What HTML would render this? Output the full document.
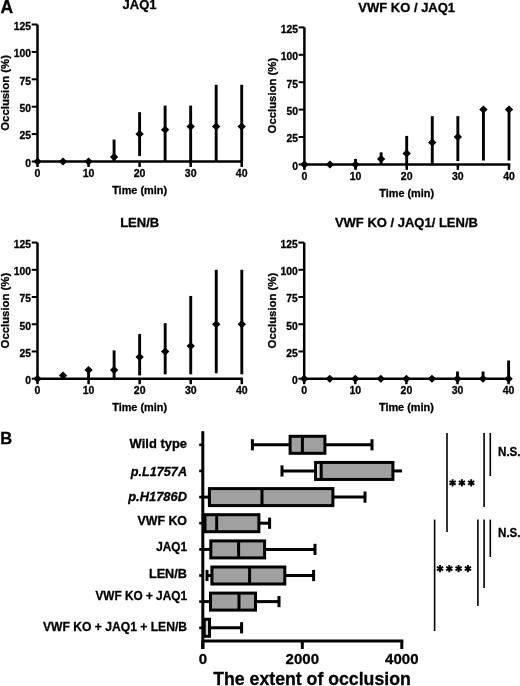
<!DOCTYPE html>
<html><head><meta charset="utf-8"><style>
html,body{margin:0;padding:0;background:#fff;}
body{width:520px;height:686px;overflow:hidden;}
svg{display:block;font-family:"Liberation Sans", sans-serif;will-change:transform;}
text{stroke:#000;stroke-width:0.3px;}
</style></head><body>
<svg width="520" height="686" viewBox="0 0 520 686" font-family='"Liberation Sans", sans-serif' fill="#000">
<rect width="520" height="686" fill="#fff"/>
<line x1="37.5" y1="24.5" x2="37.5" y2="161.5" stroke="#000" stroke-width="2.5"/>
<line x1="31.7" y1="161.50" x2="37.5" y2="161.50" stroke="#000" stroke-width="2"/>
<text x="31.0" y="166.80" text-anchor="end" font-size="10.3" font-weight="bold">0</text>
<line x1="31.7" y1="134.10" x2="37.5" y2="134.10" stroke="#000" stroke-width="2"/>
<text x="31.0" y="139.40" text-anchor="end" font-size="10.3" font-weight="bold">25</text>
<line x1="31.7" y1="106.70" x2="37.5" y2="106.70" stroke="#000" stroke-width="2"/>
<text x="31.0" y="112.00" text-anchor="end" font-size="10.3" font-weight="bold">50</text>
<line x1="31.7" y1="79.30" x2="37.5" y2="79.30" stroke="#000" stroke-width="2"/>
<text x="31.0" y="84.60" text-anchor="end" font-size="10.3" font-weight="bold">75</text>
<line x1="31.7" y1="51.90" x2="37.5" y2="51.90" stroke="#000" stroke-width="2"/>
<text x="31.0" y="57.20" text-anchor="end" font-size="10.3" font-weight="bold">100</text>
<line x1="31.7" y1="24.50" x2="37.5" y2="24.50" stroke="#000" stroke-width="2"/>
<text x="31.0" y="29.80" text-anchor="end" font-size="10.3" font-weight="bold">125</text>
<line x1="36.25" y1="161.5" x2="242.95" y2="161.5" stroke="#000" stroke-width="2.5"/>
<line x1="37.50" y1="161.5" x2="37.50" y2="167.0" stroke="#000" stroke-width="2.5"/>
<text x="37.50" y="176.9" text-anchor="middle" font-size="10.5" font-weight="bold">0</text>
<line x1="88.55" y1="161.5" x2="88.55" y2="167.0" stroke="#000" stroke-width="2.5"/>
<text x="88.55" y="176.9" text-anchor="middle" font-size="10.5" font-weight="bold">10</text>
<line x1="139.60" y1="161.5" x2="139.60" y2="167.0" stroke="#000" stroke-width="2.5"/>
<text x="139.60" y="176.9" text-anchor="middle" font-size="10.5" font-weight="bold">20</text>
<line x1="190.65" y1="161.5" x2="190.65" y2="167.0" stroke="#000" stroke-width="2.5"/>
<text x="190.65" y="176.9" text-anchor="middle" font-size="10.5" font-weight="bold">30</text>
<line x1="241.70" y1="161.5" x2="241.70" y2="167.0" stroke="#000" stroke-width="2.5"/>
<text x="241.70" y="176.9" text-anchor="middle" font-size="10.5" font-weight="bold">40</text>
<path d="M33.30 161.50 L37.50 157.50 L41.70 161.50 L37.50 165.50 Z" fill="#000"/>
<path d="M58.82 161.50 L63.02 157.50 L67.22 161.50 L63.02 165.50 Z" fill="#000"/>
<path d="M84.35 161.50 L88.55 157.50 L92.75 161.50 L88.55 165.50 Z" fill="#000"/>
<line x1="114.07" y1="161.50" x2="114.07" y2="139.58" stroke="#000" stroke-width="2.9"/>
<path d="M109.87 157.12 L114.07 153.12 L118.27 157.12 L114.07 161.12 Z" fill="#000"/>
<line x1="139.60" y1="156.02" x2="139.60" y2="112.18" stroke="#000" stroke-width="2.9"/>
<path d="M135.40 134.10 L139.60 130.10 L143.80 134.10 L139.60 138.10 Z" fill="#000"/>
<line x1="165.12" y1="161.50" x2="165.12" y2="105.60" stroke="#000" stroke-width="2.9"/>
<path d="M160.93 129.72 L165.12 125.72 L169.32 129.72 L165.12 133.72 Z" fill="#000"/>
<line x1="190.65" y1="161.50" x2="190.65" y2="105.60" stroke="#000" stroke-width="2.9"/>
<path d="M186.45 126.43 L190.65 122.43 L194.85 126.43 L190.65 130.43 Z" fill="#000"/>
<line x1="216.17" y1="161.50" x2="216.17" y2="84.78" stroke="#000" stroke-width="2.9"/>
<path d="M211.97 126.43 L216.17 122.43 L220.37 126.43 L216.17 130.43 Z" fill="#000"/>
<line x1="241.70" y1="161.50" x2="241.70" y2="84.78" stroke="#000" stroke-width="2.9"/>
<path d="M237.50 126.43 L241.70 122.43 L245.90 126.43 L241.70 130.43 Z" fill="#000"/>
<text x="139.60" y="9.4" text-anchor="middle" font-size="13" font-weight="bold">JAQ1</text>
<text x="139.60" y="193.9" text-anchor="middle" font-size="10.9" font-weight="bold">Time (min)</text>
<text transform="translate(8.8 92.9) rotate(-90)" text-anchor="middle" font-size="11.35" font-weight="bold">Occlusion (%)</text>
<line x1="304.4" y1="27.400000000000006" x2="304.4" y2="164.4" stroke="#000" stroke-width="2.5"/>
<line x1="298.59999999999997" y1="164.40" x2="304.4" y2="164.40" stroke="#000" stroke-width="2"/>
<text x="297.9" y="169.70" text-anchor="end" font-size="10.3" font-weight="bold">0</text>
<line x1="298.59999999999997" y1="137.00" x2="304.4" y2="137.00" stroke="#000" stroke-width="2"/>
<text x="297.9" y="142.30" text-anchor="end" font-size="10.3" font-weight="bold">25</text>
<line x1="298.59999999999997" y1="109.60" x2="304.4" y2="109.60" stroke="#000" stroke-width="2"/>
<text x="297.9" y="114.90" text-anchor="end" font-size="10.3" font-weight="bold">50</text>
<line x1="298.59999999999997" y1="82.20" x2="304.4" y2="82.20" stroke="#000" stroke-width="2"/>
<text x="297.9" y="87.50" text-anchor="end" font-size="10.3" font-weight="bold">75</text>
<line x1="298.59999999999997" y1="54.80" x2="304.4" y2="54.80" stroke="#000" stroke-width="2"/>
<text x="297.9" y="60.10" text-anchor="end" font-size="10.3" font-weight="bold">100</text>
<line x1="298.59999999999997" y1="27.40" x2="304.4" y2="27.40" stroke="#000" stroke-width="2"/>
<text x="297.9" y="32.70" text-anchor="end" font-size="10.3" font-weight="bold">125</text>
<line x1="303.15" y1="164.4" x2="510.25" y2="164.4" stroke="#000" stroke-width="2.5"/>
<line x1="304.40" y1="164.4" x2="304.40" y2="169.9" stroke="#000" stroke-width="2.5"/>
<text x="304.40" y="179.5" text-anchor="middle" font-size="10.5" font-weight="bold">0</text>
<line x1="355.55" y1="164.4" x2="355.55" y2="169.9" stroke="#000" stroke-width="2.5"/>
<text x="355.55" y="179.5" text-anchor="middle" font-size="10.5" font-weight="bold">10</text>
<line x1="406.70" y1="164.4" x2="406.70" y2="169.9" stroke="#000" stroke-width="2.5"/>
<text x="406.70" y="179.5" text-anchor="middle" font-size="10.5" font-weight="bold">20</text>
<line x1="457.85" y1="164.4" x2="457.85" y2="169.9" stroke="#000" stroke-width="2.5"/>
<text x="457.85" y="179.5" text-anchor="middle" font-size="10.5" font-weight="bold">30</text>
<line x1="509.00" y1="164.4" x2="509.00" y2="169.9" stroke="#000" stroke-width="2.5"/>
<text x="509.00" y="179.5" text-anchor="middle" font-size="10.5" font-weight="bold">40</text>
<path d="M300.20 164.40 L304.40 160.40 L308.60 164.40 L304.40 168.40 Z" fill="#000"/>
<path d="M325.77 164.40 L329.97 160.40 L334.17 164.40 L329.97 168.40 Z" fill="#000"/>
<line x1="355.55" y1="168.78" x2="355.55" y2="158.92" stroke="#000" stroke-width="2.9"/>
<path d="M351.35 164.40 L355.55 160.40 L359.75 164.40 L355.55 168.40 Z" fill="#000"/>
<line x1="381.12" y1="164.40" x2="381.12" y2="152.34" stroke="#000" stroke-width="2.9"/>
<path d="M376.93 158.92 L381.12 154.92 L385.32 158.92 L381.12 162.92 Z" fill="#000"/>
<line x1="406.70" y1="164.40" x2="406.70" y2="135.90" stroke="#000" stroke-width="2.9"/>
<path d="M402.50 153.44 L406.70 149.44 L410.90 153.44 L406.70 157.44 Z" fill="#000"/>
<line x1="432.27" y1="164.40" x2="432.27" y2="116.18" stroke="#000" stroke-width="2.9"/>
<path d="M428.07 142.48 L432.27 138.48 L436.47 142.48 L432.27 146.48 Z" fill="#000"/>
<line x1="457.85" y1="161.11" x2="457.85" y2="116.18" stroke="#000" stroke-width="2.9"/>
<path d="M453.65 137.00 L457.85 133.00 L462.05 137.00 L457.85 141.00 Z" fill="#000"/>
<line x1="483.42" y1="160.56" x2="483.42" y2="109.60" stroke="#000" stroke-width="2.9"/>
<path d="M479.22 109.60 L483.42 105.60 L487.62 109.60 L483.42 113.60 Z" fill="#000"/>
<line x1="509.00" y1="160.56" x2="509.00" y2="109.60" stroke="#000" stroke-width="2.9"/>
<path d="M504.80 109.60 L509.00 105.60 L513.20 109.60 L509.00 113.60 Z" fill="#000"/>
<text x="406.70" y="12.2" text-anchor="middle" font-size="13" font-weight="bold">VWF KO / JAQ1</text>
<text x="406.70" y="196.6" text-anchor="middle" font-size="10.9" font-weight="bold">Time (min)</text>
<text transform="translate(275.6 95.6) rotate(-90)" text-anchor="middle" font-size="11.35" font-weight="bold">Occlusion (%)</text>
<line x1="37.5" y1="242.575" x2="37.5" y2="378.7" stroke="#000" stroke-width="2.5"/>
<line x1="31.7" y1="378.70" x2="37.5" y2="378.70" stroke="#000" stroke-width="2"/>
<text x="31.0" y="384.00" text-anchor="end" font-size="10.3" font-weight="bold">0</text>
<line x1="31.7" y1="351.47" x2="37.5" y2="351.47" stroke="#000" stroke-width="2"/>
<text x="31.0" y="356.77" text-anchor="end" font-size="10.3" font-weight="bold">25</text>
<line x1="31.7" y1="324.25" x2="37.5" y2="324.25" stroke="#000" stroke-width="2"/>
<text x="31.0" y="329.55" text-anchor="end" font-size="10.3" font-weight="bold">50</text>
<line x1="31.7" y1="297.02" x2="37.5" y2="297.02" stroke="#000" stroke-width="2"/>
<text x="31.0" y="302.32" text-anchor="end" font-size="10.3" font-weight="bold">75</text>
<line x1="31.7" y1="269.80" x2="37.5" y2="269.80" stroke="#000" stroke-width="2"/>
<text x="31.0" y="275.10" text-anchor="end" font-size="10.3" font-weight="bold">100</text>
<line x1="31.7" y1="242.57" x2="37.5" y2="242.57" stroke="#000" stroke-width="2"/>
<text x="31.0" y="247.88" text-anchor="end" font-size="10.3" font-weight="bold">125</text>
<line x1="36.25" y1="378.7" x2="243.05" y2="378.7" stroke="#000" stroke-width="2.5"/>
<line x1="37.50" y1="378.7" x2="37.50" y2="384.2" stroke="#000" stroke-width="2.5"/>
<text x="37.50" y="394.0" text-anchor="middle" font-size="10.5" font-weight="bold">0</text>
<line x1="88.58" y1="378.7" x2="88.58" y2="384.2" stroke="#000" stroke-width="2.5"/>
<text x="88.58" y="394.0" text-anchor="middle" font-size="10.5" font-weight="bold">10</text>
<line x1="139.65" y1="378.7" x2="139.65" y2="384.2" stroke="#000" stroke-width="2.5"/>
<text x="139.65" y="394.0" text-anchor="middle" font-size="10.5" font-weight="bold">20</text>
<line x1="190.72" y1="378.7" x2="190.72" y2="384.2" stroke="#000" stroke-width="2.5"/>
<text x="190.72" y="394.0" text-anchor="middle" font-size="10.5" font-weight="bold">30</text>
<line x1="241.80" y1="378.7" x2="241.80" y2="384.2" stroke="#000" stroke-width="2.5"/>
<text x="241.80" y="394.0" text-anchor="middle" font-size="10.5" font-weight="bold">40</text>
<path d="M33.30 378.70 L37.50 374.70 L41.70 378.70 L37.50 382.70 Z" fill="#000"/>
<path d="M58.84 375.43 L63.04 371.43 L67.24 375.43 L63.04 379.43 Z" fill="#000"/>
<line x1="88.58" y1="378.70" x2="88.58" y2="369.99" stroke="#000" stroke-width="2.9"/>
<path d="M84.38 369.99 L88.58 365.99 L92.78 369.99 L88.58 373.99 Z" fill="#000"/>
<line x1="114.11" y1="378.70" x2="114.11" y2="350.39" stroke="#000" stroke-width="2.9"/>
<path d="M109.91 369.99 L114.11 365.99 L118.31 369.99 L114.11 373.99 Z" fill="#000"/>
<line x1="139.65" y1="375.43" x2="139.65" y2="334.05" stroke="#000" stroke-width="2.9"/>
<path d="M135.45 356.92 L139.65 352.92 L143.85 356.92 L139.65 360.92 Z" fill="#000"/>
<line x1="165.19" y1="374.34" x2="165.19" y2="323.16" stroke="#000" stroke-width="2.9"/>
<path d="M160.99 351.47 L165.19 347.47 L169.39 351.47 L165.19 355.47 Z" fill="#000"/>
<line x1="190.72" y1="374.34" x2="190.72" y2="295.94" stroke="#000" stroke-width="2.9"/>
<path d="M186.53 346.03 L190.72 342.03 L194.92 346.03 L190.72 350.03 Z" fill="#000"/>
<line x1="216.26" y1="373.25" x2="216.26" y2="269.80" stroke="#000" stroke-width="2.9"/>
<path d="M212.06 324.25 L216.26 320.25 L220.46 324.25 L216.26 328.25 Z" fill="#000"/>
<line x1="241.80" y1="374.34" x2="241.80" y2="269.80" stroke="#000" stroke-width="2.9"/>
<path d="M237.60 324.25 L241.80 320.25 L246.00 324.25 L241.80 328.25 Z" fill="#000"/>
<text x="139.65" y="227.3" text-anchor="middle" font-size="13" font-weight="bold">LEN/B</text>
<text x="139.65" y="410.9" text-anchor="middle" font-size="10.9" font-weight="bold">Time (min)</text>
<text transform="translate(9.4 310.6) rotate(-90)" text-anchor="middle" font-size="11.35" font-weight="bold">Occlusion (%)</text>
<line x1="304.2" y1="242.575" x2="304.2" y2="378.7" stroke="#000" stroke-width="2.5"/>
<line x1="298.4" y1="378.70" x2="304.2" y2="378.70" stroke="#000" stroke-width="2"/>
<text x="297.7" y="384.00" text-anchor="end" font-size="10.3" font-weight="bold">0</text>
<line x1="298.4" y1="351.47" x2="304.2" y2="351.47" stroke="#000" stroke-width="2"/>
<text x="297.7" y="356.77" text-anchor="end" font-size="10.3" font-weight="bold">25</text>
<line x1="298.4" y1="324.25" x2="304.2" y2="324.25" stroke="#000" stroke-width="2"/>
<text x="297.7" y="329.55" text-anchor="end" font-size="10.3" font-weight="bold">50</text>
<line x1="298.4" y1="297.02" x2="304.2" y2="297.02" stroke="#000" stroke-width="2"/>
<text x="297.7" y="302.32" text-anchor="end" font-size="10.3" font-weight="bold">75</text>
<line x1="298.4" y1="269.80" x2="304.2" y2="269.80" stroke="#000" stroke-width="2"/>
<text x="297.7" y="275.10" text-anchor="end" font-size="10.3" font-weight="bold">100</text>
<line x1="298.4" y1="242.57" x2="304.2" y2="242.57" stroke="#000" stroke-width="2"/>
<text x="297.7" y="247.88" text-anchor="end" font-size="10.3" font-weight="bold">125</text>
<line x1="302.95" y1="378.7" x2="509.85" y2="378.7" stroke="#000" stroke-width="2.5"/>
<line x1="304.20" y1="378.7" x2="304.20" y2="384.2" stroke="#000" stroke-width="2.5"/>
<text x="304.20" y="394.0" text-anchor="middle" font-size="10.5" font-weight="bold">0</text>
<line x1="355.30" y1="378.7" x2="355.30" y2="384.2" stroke="#000" stroke-width="2.5"/>
<text x="355.30" y="394.0" text-anchor="middle" font-size="10.5" font-weight="bold">10</text>
<line x1="406.40" y1="378.7" x2="406.40" y2="384.2" stroke="#000" stroke-width="2.5"/>
<text x="406.40" y="394.0" text-anchor="middle" font-size="10.5" font-weight="bold">20</text>
<line x1="457.50" y1="378.7" x2="457.50" y2="384.2" stroke="#000" stroke-width="2.5"/>
<text x="457.50" y="394.0" text-anchor="middle" font-size="10.5" font-weight="bold">30</text>
<line x1="508.60" y1="378.7" x2="508.60" y2="384.2" stroke="#000" stroke-width="2.5"/>
<text x="508.60" y="394.0" text-anchor="middle" font-size="10.5" font-weight="bold">40</text>
<path d="M300.00 378.70 L304.20 374.70 L308.40 378.70 L304.20 382.70 Z" fill="#000"/>
<path d="M325.55 378.70 L329.75 374.70 L333.95 378.70 L329.75 382.70 Z" fill="#000"/>
<path d="M351.10 378.70 L355.30 374.70 L359.50 378.70 L355.30 382.70 Z" fill="#000"/>
<path d="M376.65 378.70 L380.85 374.70 L385.05 378.70 L380.85 382.70 Z" fill="#000"/>
<path d="M402.20 378.70 L406.40 374.70 L410.60 378.70 L406.40 382.70 Z" fill="#000"/>
<path d="M427.75 378.70 L431.95 374.70 L436.15 378.70 L431.95 382.70 Z" fill="#000"/>
<line x1="457.50" y1="378.70" x2="457.50" y2="371.51" stroke="#000" stroke-width="2.9"/>
<path d="M453.30 378.70 L457.50 374.70 L461.70 378.70 L457.50 382.70 Z" fill="#000"/>
<line x1="483.05" y1="378.70" x2="483.05" y2="371.51" stroke="#000" stroke-width="2.9"/>
<path d="M478.85 378.70 L483.05 374.70 L487.25 378.70 L483.05 382.70 Z" fill="#000"/>
<line x1="508.60" y1="378.70" x2="508.60" y2="360.51" stroke="#000" stroke-width="2.9"/>
<path d="M504.40 378.70 L508.60 374.70 L512.80 378.70 L508.60 382.70 Z" fill="#000"/>
<text x="406.40" y="227.1" text-anchor="middle" font-size="13" font-weight="bold">VWF KO / JAQ1/ LEN/B</text>
<text x="406.40" y="410.9" text-anchor="middle" font-size="10.9" font-weight="bold">Time (min)</text>
<text transform="translate(275.5 310.6) rotate(-90)" text-anchor="middle" font-size="11.35" font-weight="bold">Occlusion (%)</text>
<text x="0.5" y="12.8" font-size="17.5" font-weight="bold">A</text>
<text x="0.3" y="443.6" font-size="16.5" font-weight="bold">B</text>
<line x1="202.8" y1="431.2" x2="202.8" y2="649" stroke="#000" stroke-width="3"/>
<line x1="199.2" y1="444.8" x2="202.8" y2="444.8" stroke="#000" stroke-width="2.6"/>
<line x1="199.2" y1="470.95" x2="202.8" y2="470.95" stroke="#000" stroke-width="2.6"/>
<line x1="199.2" y1="497.1" x2="202.8" y2="497.1" stroke="#000" stroke-width="2.6"/>
<line x1="199.2" y1="523.2" x2="202.8" y2="523.2" stroke="#000" stroke-width="2.6"/>
<line x1="199.2" y1="549.4" x2="202.8" y2="549.4" stroke="#000" stroke-width="2.6"/>
<line x1="199.2" y1="575.5" x2="202.8" y2="575.5" stroke="#000" stroke-width="2.6"/>
<line x1="199.2" y1="601.6" x2="202.8" y2="601.6" stroke="#000" stroke-width="2.6"/>
<line x1="199.2" y1="627.8" x2="202.8" y2="627.8" stroke="#000" stroke-width="2.6"/>
<line x1="202.8" y1="641" x2="403.30" y2="641" stroke="#000" stroke-width="3"/>
<line x1="202.80" y1="641" x2="202.80" y2="649" stroke="#000" stroke-width="3"/>
<text x="202.80" y="664.4" text-anchor="middle" font-size="15" font-weight="bold">0</text>
<line x1="302.30" y1="641" x2="302.30" y2="649" stroke="#000" stroke-width="3"/>
<text x="302.30" y="664.4" text-anchor="middle" font-size="15" font-weight="bold">2000</text>
<line x1="401.80" y1="641" x2="401.80" y2="649" stroke="#000" stroke-width="3"/>
<text x="401.80" y="664.4" text-anchor="middle" font-size="15" font-weight="bold">4000</text>
<text x="312" y="685" text-anchor="middle" font-size="17.7" font-weight="bold">The extent of occlusion</text>
<line x1="252.4" y1="444.8" x2="290.1" y2="444.8" stroke="#000" stroke-width="3"/>
<line x1="252.4" y1="439.2" x2="252.4" y2="450.40000000000003" stroke="#000" stroke-width="3"/>
<line x1="324.9" y1="444.8" x2="372.0" y2="444.8" stroke="#000" stroke-width="3"/>
<line x1="372.0" y1="439.2" x2="372.0" y2="450.40000000000003" stroke="#000" stroke-width="3"/>
<rect x="290.1" y="436.3" width="34.799999999999955" height="17.0" fill="#a0a0a0" stroke="#000" stroke-width="3.0"/>
<line x1="302.4" y1="436.3" x2="302.4" y2="453.3" stroke="#000" stroke-width="3.0"/>
<line x1="282.0" y1="470.95" x2="315.6" y2="470.95" stroke="#000" stroke-width="3"/>
<line x1="282.0" y1="465.34999999999997" x2="282.0" y2="476.55" stroke="#000" stroke-width="3"/>
<line x1="392.9" y1="470.95" x2="402.0" y2="470.95" stroke="#000" stroke-width="3"/>
<rect x="315.6" y="462.45" width="77.29999999999995" height="17.0" fill="#a0a0a0" stroke="#000" stroke-width="3.0"/>
<rect x="317.1" y="463.95" width="2.599999999999966" height="14.0" fill="#d8d8d8"/>
<line x1="321.2" y1="462.45" x2="321.2" y2="479.45" stroke="#000" stroke-width="3.0"/>
<line x1="202.8" y1="497.1" x2="209.4" y2="497.1" stroke="#000" stroke-width="3"/>
<line x1="332.9" y1="497.1" x2="365.0" y2="497.1" stroke="#000" stroke-width="3"/>
<line x1="365.0" y1="491.5" x2="365.0" y2="502.70000000000005" stroke="#000" stroke-width="3"/>
<rect x="209.4" y="488.6" width="123.49999999999997" height="17.0" fill="#a0a0a0" stroke="#000" stroke-width="3.0"/>
<line x1="262.0" y1="488.6" x2="262.0" y2="505.6" stroke="#000" stroke-width="3.0"/>
<line x1="202.8" y1="523.2" x2="205.0" y2="523.2" stroke="#000" stroke-width="3"/>
<line x1="258.9" y1="523.2" x2="269.6" y2="523.2" stroke="#000" stroke-width="3"/>
<line x1="269.6" y1="517.6" x2="269.6" y2="528.8000000000001" stroke="#000" stroke-width="3"/>
<rect x="205.0" y="514.7" width="53.89999999999998" height="17.0" fill="#a0a0a0" stroke="#000" stroke-width="3.0"/>
<line x1="216.7" y1="514.7" x2="216.7" y2="531.7" stroke="#000" stroke-width="3.0"/>
<line x1="202.8" y1="549.4" x2="210.8" y2="549.4" stroke="#000" stroke-width="3"/>
<line x1="264.6" y1="549.4" x2="315.0" y2="549.4" stroke="#000" stroke-width="3"/>
<line x1="315.0" y1="543.8" x2="315.0" y2="555.0" stroke="#000" stroke-width="3"/>
<rect x="210.8" y="540.9" width="53.80000000000001" height="17.0" fill="#a0a0a0" stroke="#000" stroke-width="3.0"/>
<line x1="238.6" y1="540.9" x2="238.6" y2="557.9" stroke="#000" stroke-width="3.0"/>
<line x1="207.0" y1="575.5" x2="211.9" y2="575.5" stroke="#000" stroke-width="3"/>
<line x1="207.0" y1="569.9" x2="207.0" y2="581.1" stroke="#000" stroke-width="3"/>
<line x1="284.8" y1="575.5" x2="313.6" y2="575.5" stroke="#000" stroke-width="3"/>
<line x1="313.6" y1="569.9" x2="313.6" y2="581.1" stroke="#000" stroke-width="3"/>
<rect x="211.9" y="567.0" width="72.9" height="17.0" fill="#a0a0a0" stroke="#000" stroke-width="3.0"/>
<line x1="249.6" y1="567.0" x2="249.6" y2="584.0" stroke="#000" stroke-width="3.0"/>
<line x1="202.8" y1="601.6" x2="210.5" y2="601.6" stroke="#000" stroke-width="3"/>
<line x1="255.5" y1="601.6" x2="279.0" y2="601.6" stroke="#000" stroke-width="3"/>
<line x1="279.0" y1="596.0" x2="279.0" y2="607.2" stroke="#000" stroke-width="3"/>
<rect x="210.5" y="593.1" width="45.0" height="17.0" fill="#a0a0a0" stroke="#000" stroke-width="3.0"/>
<line x1="239.0" y1="593.1" x2="239.0" y2="610.1" stroke="#000" stroke-width="3.0"/>
<line x1="209.5" y1="627.8" x2="241.6" y2="627.8" stroke="#000" stroke-width="3"/>
<line x1="241.6" y1="622.1999999999999" x2="241.6" y2="633.4" stroke="#000" stroke-width="3"/>
<rect x="204.0" y="619.3" width="5.5" height="17.0" fill="#d2d2d2" stroke="#000" stroke-width="3.0"/>
<line x1="204.0" y1="619.3" x2="204.0" y2="636.3" stroke="#000" stroke-width="3.0"/>
<text x="187" y="447.6" text-anchor="end" font-size="12.4" font-weight="bold" textLength="57.40" lengthAdjust="spacingAndGlyphs">Wild type</text>
<text x="187" y="476.2" text-anchor="end" font-size="12.4" font-weight="bold" font-style="italic" textLength="56.14" lengthAdjust="spacingAndGlyphs">p.L1757A</text>
<text x="187" y="501.2" text-anchor="end" font-size="12.4" font-weight="bold" font-style="italic" textLength="58.82" lengthAdjust="spacingAndGlyphs">p.H1786D</text>
<text x="187" y="525.4" text-anchor="end" font-size="12.4" font-weight="bold" textLength="49.59" lengthAdjust="spacingAndGlyphs">VWF KO</text>
<text x="187" y="551.2" text-anchor="end" font-size="12.4" font-weight="bold" textLength="30.79" lengthAdjust="spacingAndGlyphs">JAQ1</text>
<text x="187" y="577.6" text-anchor="end" font-size="12.4" font-weight="bold" textLength="38.10" lengthAdjust="spacingAndGlyphs">LEN/B</text>
<text x="187" y="600.2" text-anchor="end" font-size="12.4" font-weight="bold" textLength="91.62" lengthAdjust="spacingAndGlyphs">VWF KO + JAQ1</text>
<text x="187" y="631.0" text-anchor="end" font-size="12.4" font-weight="bold" textLength="143.95" lengthAdjust="spacingAndGlyphs">VWF KO + JAQ1 + LEN/B</text>
<line x1="447.0" y1="433.0" x2="447.0" y2="532.0" stroke="#000" stroke-width="1.6"/>
<line x1="484.1" y1="433.0" x2="484.1" y2="507.0" stroke="#000" stroke-width="1.6"/>
<line x1="490.3" y1="433.0" x2="490.3" y2="476.0" stroke="#000" stroke-width="1.6"/>
<line x1="434.6" y1="519.6" x2="434.6" y2="631.0" stroke="#000" stroke-width="1.6"/>
<line x1="477.9" y1="519.6" x2="477.9" y2="606.0" stroke="#000" stroke-width="1.6"/>
<line x1="484.1" y1="519.6" x2="484.1" y2="588.0" stroke="#000" stroke-width="1.6"/>
<line x1="490.3" y1="519.6" x2="490.3" y2="557.0" stroke="#000" stroke-width="1.6"/>
<text x="498" y="456.3" font-size="12.6" font-weight="bold" textLength="22.6" lengthAdjust="spacingAndGlyphs">N.S.</text>
<text x="498" y="537.3" font-size="12.6" font-weight="bold" textLength="22.6" lengthAdjust="spacingAndGlyphs">N.S.</text>
<path d="M452.60 479.20L452.60 486.40M449.48 481.00L455.72 484.60M449.48 484.60L455.72 481.00" stroke="#000" stroke-width="1.9" fill="none"/>
<path d="M461.90 479.20L461.90 486.40M458.78 481.00L465.02 484.60M458.78 484.60L465.02 481.00" stroke="#000" stroke-width="1.9" fill="none"/>
<path d="M471.20 479.20L471.20 486.40M468.08 481.00L474.32 484.60M468.08 484.60L474.32 481.00" stroke="#000" stroke-width="1.9" fill="none"/>
<path d="M440.00 565.00L440.00 572.20M436.88 566.80L443.12 570.40M436.88 570.40L443.12 566.80" stroke="#000" stroke-width="1.9" fill="none"/>
<path d="M449.30 565.00L449.30 572.20M446.18 566.80L452.42 570.40M446.18 570.40L452.42 566.80" stroke="#000" stroke-width="1.9" fill="none"/>
<path d="M458.60 565.00L458.60 572.20M455.48 566.80L461.72 570.40M455.48 570.40L461.72 566.80" stroke="#000" stroke-width="1.9" fill="none"/>
<path d="M467.90 565.00L467.90 572.20M464.78 566.80L471.02 570.40M464.78 570.40L471.02 566.80" stroke="#000" stroke-width="1.9" fill="none"/>
</svg>
</body></html>
